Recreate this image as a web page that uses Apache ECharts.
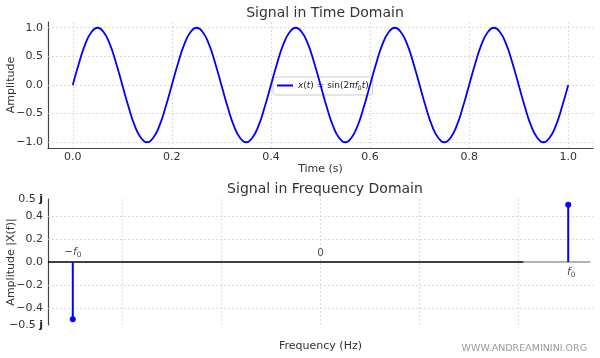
<!DOCTYPE html>
<html><head><meta charset="utf-8">
<script src="https://cdn.jsdelivr.net/npm/echarts@6/dist/echarts.min.js"></script>
<style>html,body{margin:0;padding:0;background:#fff}#c{width:600px;height:358px}</style>
</head><body><div id="c"></div>
<script>
// ---- data ----
const times = [
0,0.0125,0.025,0.0375,0.05,0.0625,0.075,0.0875,0.1,0.1125,0.125,0.1375,0.15,0.1625,0.175,0.1875,
0.2,0.2125,0.225,0.2375,0.25,0.2625,0.275,0.2875,0.3,0.3125,0.325,0.3375,0.35,0.3625,0.375,0.3875,
0.4,0.4125,0.425,0.4375,0.45,0.4625,0.475,0.4875,0.5,0.5125,0.525,0.5375,0.55,0.5625,0.575,0.5875,
0.6,0.6125,0.625,0.6375,0.65,0.6625,0.675,0.6875,0.7,0.7125,0.725,0.7375,0.75,0.7625,0.775,0.7875,
0.8,0.8125,0.825,0.8375,0.85,0.8625,0.875,0.8875,0.9,0.9125,0.925,0.9375,0.95,0.9625,0.975,0.9875,
1.0];
const amplitude = [
0,0.38,0.71,0.92,1,0.92,0.71,0.38,0,-0.38,-0.71,-0.92,-1,-0.92,-0.71,-0.38,
0,0.38,0.71,0.92,1,0.92,0.71,0.38,0,-0.38,-0.71,-0.92,-1,-0.92,-0.71,-0.38,
0,0.38,0.71,0.92,1,0.92,0.71,0.38,0,-0.38,-0.71,-0.92,-1,-0.92,-0.71,-0.38,
0,0.38,0.71,0.92,1,0.92,0.71,0.38,0,-0.38,-0.71,-0.92,-1,-0.92,-0.71,-0.38,
0,0.38,0.71,0.92,1,0.92,0.71,0.38,0,-0.38,-0.71,-0.92,-1,-0.92,-0.71,-0.38,
0];
const timeTicks = [0, 0.2, 0.4, 0.6, 0.8, 1.0];
const ampTicks = [-1.0, -0.5, 0, 0.5, 1.0];
const freqs = [-5, 5];            // -f0, f0
const spectrum = [-0.5, 0.5];     // imaginary parts
const freqGrid = [-4, -2, 0, 2, 4];
const specTicks = [-0.55, -0.4, -0.2, 0, 0.2, 0.4, 0.55];
const specGrid = [-0.4, -0.2, 0.2, 0.4];
const freqLabels = [
  {x: -5, text: '−{i|f}{s|0}', pos: 'top'},
  {x: 0, text: '0', pos: 'top'},
  {x: 5, text: '{i|f}{s|0}', pos: 'bottom'}
];
const legendName = 'x(t) = sin(2πf0t)';

// ---- chart ----
const FONT = 'DejaVu Sans';
const BLUE = '#0000ff';
const gridLine = {color: '#d4d4d4', width: 0.8, type: [2, 2]};
const chart = echarts.init(document.getElementById('c'), null, {renderer: 'canvas'});
const minus = s => s.replace('-', '−');
const rich = {
  i: {fontStyle: 'italic', fontFamily: FONT, fontSize: 10.5, color: '#222'},
  s: {fontFamily: FONT, fontSize: 7.5, color: '#222', verticalAlign: 'bottom', padding: [6, 0, 0, 0]},
  b: {fontWeight: 'bold', fontFamily: FONT, fontSize: 11, color: '#222'}
};
const axisName = {fontFamily: FONT, fontSize: 11, color: '#333'};

const stemSeries = freqs.map((f, i) => ({
  type: 'line', xAxisIndex: 1, yAxisIndex: 1, z: 5,
  data: [{value: [f, 0], symbol: 'none'}, {value: [f, spectrum[i]]}],
  symbol: 'circle', symbolSize: 6, showSymbol: true,
  lineStyle: {color: BLUE, width: 2}, itemStyle: {color: BLUE},
  silent: true, animation: false
}));

chart.setOption({
  animation: false,
  textStyle: {fontFamily: FONT},
  title: [
    {text: 'Signal in Time Domain', left: 320, textAlign: 'center', top: 1,
     textStyle: {fontFamily: FONT, fontSize: 14, fontWeight: 'normal', color: '#333'}},
    {text: 'Signal in Frequency Domain', left: 320, textAlign: 'center', top: 177,
     textStyle: {fontFamily: FONT, fontSize: 14, fontWeight: 'normal', color: '#333'}}
  ],
  legend: {
    data: [{name: legendName, icon: 'rect'}],
    left: 273, top: 77, itemWidth: 16, itemHeight: 2, itemGap: 5,
    padding: [4, 4, 4, 4],
    borderColor: '#cccccc', borderWidth: 1, borderRadius: 3, backgroundColor: 'rgba(255,255,255,0.85)',
    formatter: () => '{i|x}({i|t}) = sin(2{i|πf}{s|0}{i|t})',
    textStyle: {fontFamily: FONT, fontSize: 9, color: '#222',
      rich: {i: {fontStyle: 'italic', fontFamily: FONT, fontSize: 9, color: '#222'},
             s: {fontFamily: FONT, fontSize: 6, color: '#222', verticalAlign: 'bottom', padding: [5, 0, 0, 0]}}}
  },
  grid: [
    {left: 48, right: 7, top: 22, height: 126, containLabel: false, outerBoundsMode: 'none'},
    {left: 48, right: 7, top: 199, height: 126, containLabel: false, outerBoundsMode: 'none'}
  ],
  xAxis: [
    {type: 'value', gridIndex: 0, min: -0.05, max: 1.05,
     axisLine: {onZero: false, lineStyle: {color: '#444', width: 1.2}}, axisTick: {show: false}, splitLine: {show: false},
     axisLabel: {customValues: timeTicks, formatter: v => v.toFixed(1), color: '#333', fontSize: 11, margin: 4, fontFamily: FONT},
     name: 'Time (s)', nameLocation: 'middle', nameGap: 16, nameMoveOverlap: false,
     nameTextStyle: axisName},
    {type: 'value', gridIndex: 1, min: -5.5, max: 5.5,
     axisLine: {show: false, onZero: false}, axisTick: {show: false}, splitLine: {show: false},
     axisLabel: {show: false},
     name: 'Frequency (Hz)', nameLocation: 'middle', nameGap: 16, nameMoveOverlap: false,
     nameTextStyle: axisName}
  ],
  yAxis: [
    {type: 'value', gridIndex: 0, min: -1.1, max: 1.1,
     axisLine: {show: true, onZero: false, lineStyle: {color: '#444', width: 1.2}}, axisTick: {show: false}, splitLine: {show: false},
     axisLabel: {customValues: ampTicks, formatter: v => minus(v.toFixed(1)), color: '#333', fontSize: 11, margin: 5, fontFamily: FONT},
     name: 'Amplitude', nameLocation: 'middle', nameGap: 31, nameMoveOverlap: false,
     nameTextStyle: axisName},
    {type: 'value', gridIndex: 1, min: -0.55, max: 0.55,
     axisLine: {show: true, onZero: false, lineStyle: {color: '#444', width: 1.2}}, axisTick: {show: false}, splitLine: {show: false},
     axisLabel: {customValues: specTicks, color: '#333', fontSize: 11, margin: 5, fontFamily: FONT,
       formatter: v => v > 0.5 ? '0.5 {b|j}' : (v < -0.5 ? '−0.5 {b|j}' : minus(v.toFixed(1))),
       rich: {b: {fontWeight: 'bold', fontFamily: FONT, fontSize: 11, color: '#222'}}},
     name: 'Amplitude |X(f)|', nameLocation: 'middle', nameGap: 31, nameMoveOverlap: false,
     nameTextStyle: axisName}
  ],
  series: [
    {name: legendName, type: 'line', xAxisIndex: 0, yAxisIndex: 0, z: 5,
     data: times.map((t, i) => [t, amplitude[i]]),
     smooth: true, showSymbol: false, symbol: 'none',
     lineStyle: {color: BLUE, width: 1.8}, itemStyle: {color: BLUE},
     markLine: {silent: true, symbol: 'none', label: {show: false}, lineStyle: gridLine, z: 1,
       data: timeTicks.map(t => ({xAxis: t})).concat(ampTicks.map(a => ({yAxis: a})))}},
    {type: 'line', xAxisIndex: 1, yAxisIndex: 1, z: 3, silent: true,
     data: [[-5.5, 0], [4.1, 0]], symbol: 'none',
     lineStyle: {color: '#000', width: 1.3},
     markLine: {silent: true, symbol: 'none', label: {show: false}, lineStyle: gridLine, z: 1,
       data: freqGrid.map(f => ({xAxis: f})).concat(specGrid.map(a => ({yAxis: a})))}},
    {type: 'line', xAxisIndex: 1, yAxisIndex: 1, z: 3, silent: true,
     data: [[4.1, 0], [5.45, 0]], symbol: 'none',
     lineStyle: {color: '#999', width: 1.3}},
    ...stemSeries,
    {type: 'scatter', xAxisIndex: 1, yAxisIndex: 1, symbolSize: 0, silent: true, z: 6,
     data: freqLabels.map(l => ({
       value: [l.x, 0],
       label: {show: true, position: l.pos, distance: 3,
         offset: l.pos === 'bottom' ? [3, 0] : [0, 0],
         formatter: l.text, fontFamily: FONT, fontSize: 10.5, color: '#222', rich: rich}
     }))}
  ],
  graphic: [
    {type: 'text', right: 13, bottom: 4,
     style: {text: 'WWW.ANDREAMININI.ORG', fontFamily: FONT, fontSize: 9.5, fill: '#9a9a9a'}}
  ]
});
</script>
</body></html>
